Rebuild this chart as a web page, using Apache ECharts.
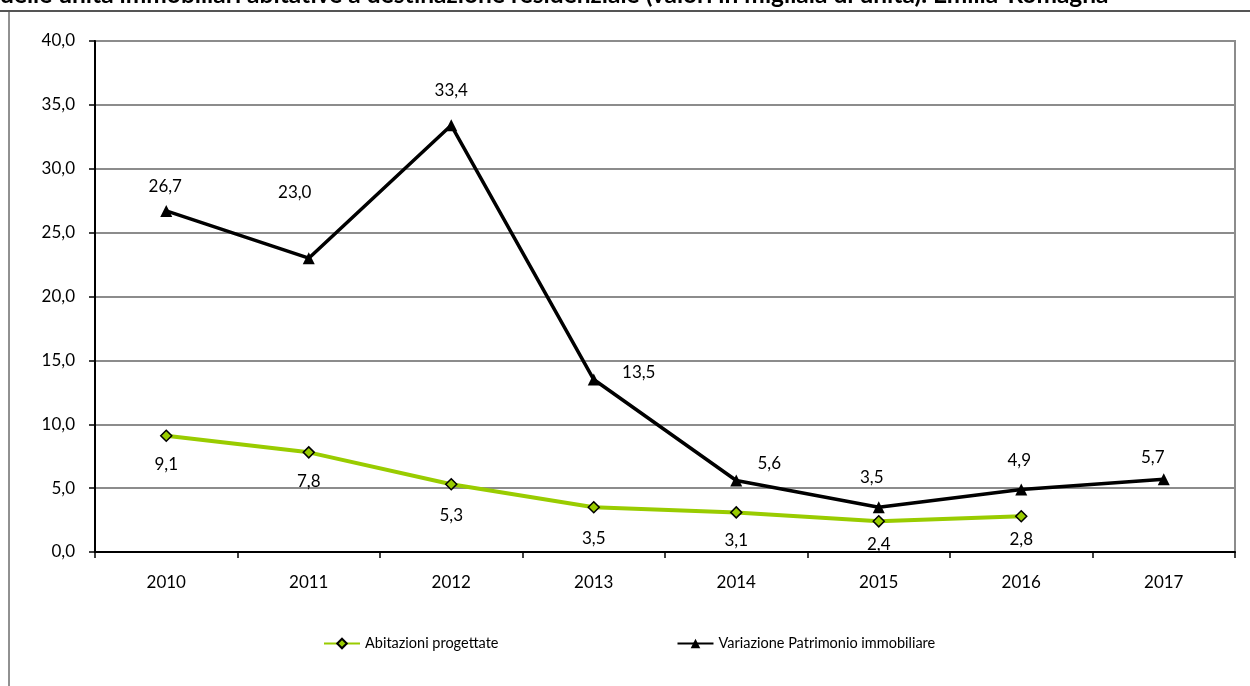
<!DOCTYPE html>
<html>
<head>
<meta charset="utf-8">
<script src="https://cdn.jsdelivr.net/npm/echarts@6/dist/echarts.min.js"></script>
<style>
  html, body { margin: 0; padding: 0; background: #fff; }
  #main { width: 1250px; height: 686px; }
</style>
</head>
<body>
<div id="main"></div>
<script>
const years = ["2010", "2011", "2012", "2013", "2014", "2015", "2016", "2017"];
const abitazioniProgettate = [9.1, 7.8, 5.3, 3.5, 3.1, 2.4, 2.8, null];
const variazionePatrimonio = [26.7, 23.0, 33.4, 13.5, 5.6, 3.5, 4.9, 5.7];
const yTicks = [0, 5, 10, 15, 20, 25, 30, 35, 40];

// label offsets (label centre relative to the point), as placed in the original
const greenLabelOffset = [[0, 29], [0, 29], [0, 31], [0, 31], [0, 28], [0, 23], [0, 23], [0, 0]];
const blackLabelOffset = [[-1, -24], [-14, -66], [0, -35], [45, -7], [33, -17], [-7, -30], [-2, -29], [-11, -22]];

const fmt = (v) => v.toFixed(1).replace(".", ",");
const font = "Lato, 'Open Sans', sans-serif";

function withLabels(values, offsets) {
  return values.map((v, i) => ({
    value: v,
    label: { offset: offsets[i] }
  }));
}

const myChart = echarts.init(document.getElementById("main"));
myChart.setOption({
  animation: false,
  textStyle: { fontFamily: font },
  graphic: [
    {
      type: "text",
      left: 0,
      top: -17,
      style: {
        text: "delle unità immobiliari abitative a destinazione residenziale (valori in migliaia di unità). Emilia-Romagna",
        font: "bold 24.5px " + font,
        fill: "#000"
      }
    },
    {
      type: "line",
      shape: { x1: 0, y1: 11, x2: 1250, y2: 11 },
      style: { stroke: "#555", lineWidth: 2 }
    },
    {
      type: "line",
      shape: { x1: 9, y1: 12, x2: 9, y2: 686 },
      style: { stroke: "#222", lineWidth: 1 }
    }
  ],
  grid: {
    left: 95,
    right: 15,
    top: 41,
    bottom: 134,
    show: true,
    borderColor: "#8c8c8c",
    borderWidth: 2
  },
  legend: {
    left: 318,
    top: 631,
    itemGap: 178,
    itemWidth: 36,
    itemHeight: 12,
    textStyle: { fontSize: 14.5, color: "#000", fontFamily: font },
    data: ["Abitazioni progettate", "Variazione Patrimonio immobiliare"]
  },
  xAxis: {
    type: "category",
    data: years,
    boundaryGap: true,
    axisLine: { lineStyle: { color: "#000", width: 2 } },
    axisTick: { show: true, length: 6, lineStyle: { color: "#000", width: 1.5 } },
    axisLabel: { color: "#000", fontSize: 17, margin: 22 },
    splitLine: { show: false }
  },
  yAxis: {
    type: "value",
    min: yTicks[0],
    max: yTicks[yTicks.length - 1],
    interval: 5,
    axisLine: { show: true, lineStyle: { color: "#000", width: 2 } },
    axisTick: { show: true, length: 6, lineStyle: { color: "#000", width: 1.5 } },
    axisLabel: { color: "#000", fontSize: 17, margin: 20, formatter: fmt },
    splitLine: { lineStyle: { color: "#8c8c8c", width: 2 } }
  },
  series: [
    {
      name: "Abitazioni progettate",
      type: "line",
      data: withLabels(abitazioniProgettate, greenLabelOffset),
      symbol: "diamond",
      symbolSize: 11,
      lineStyle: { color: "#99cc00", width: 4 },
      itemStyle: { color: "#99cc00", borderColor: "#000", borderWidth: 1.5 },
      label: {
        show: true,
        position: "inside",
        color: "#000",
        fontSize: 17,
        formatter: (p) => fmt(p.value)
      },
      z: 3
    },
    {
      name: "Variazione Patrimonio immobiliare",
      type: "line",
      data: withLabels(variazionePatrimonio, blackLabelOffset),
      symbol: "triangle",
      symbolSize: 12,
      lineStyle: { color: "#000", width: 3.5 },
      itemStyle: { color: "#000" },
      label: {
        show: true,
        position: "inside",
        color: "#000",
        fontSize: 17,
        formatter: (p) => fmt(p.value)
      },
      z: 4
    }
  ]
});
</script>
</body>
</html>
